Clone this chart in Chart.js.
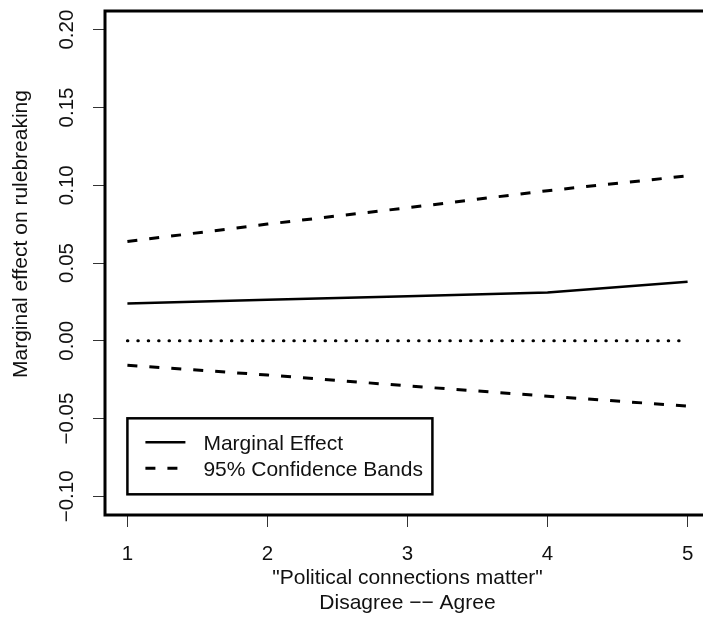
<!DOCTYPE html>
<html>
<head>
<meta charset="utf-8">
<script src="https://cdn.jsdelivr.net/npm/chart.js@4"></script>
<style>
    html, body { margin: 0; padding: 0; background: #fff; overflow: hidden; }
    #cadre { width: 712px; height: 617px; }
</style>
</head>
<body>
<div id="cadre"><canvas id="graphEffet" width="712" height="617"></canvas></div>
<script>
// ===== DONNÉES =====
// Niveaux de l'échelle "Political connections matter"
var niveaux = [1, 2, 3, 4, 5];
// Effet marginal estimé sur le rulebreaking
var effetMarginal = [0.024, 0.0263, 0.0287, 0.031, 0.038];
// Bandes de confiance à 95%
var borneHaute = [0.0638, 0.075, 0.0855, 0.0965, 0.106];
var borneBasse = [-0.0157, -0.022, -0.029, -0.0356, -0.042];
// Ligne de référence à zéro
var ligneZero = [0, 0, 0, 0, 0];
// Graduations de l'axe vertical
var ticksY = [-0.10, -0.05, 0.00, 0.05, 0.10, 0.15, 0.20];
var etiquettesY = ['\u22120.10', '\u22120.05', '0.00', '0.05', '0.10', '0.15', '0.20'];

var police = "'Liberation Sans', Arial, sans-serif";
Chart.defaults.font.family = police;
Chart.defaults.font.size = 21;
Chart.defaults.color = '#111';

// On transforme une série en points {x, y}
function points(valeurs) {
    return niveaux.map(function (n, i) { return { x: n, y: valeurs[i] }; });
}

// ===== PLUGIN : cadre, textes verticaux et légende =====
var decorR = {
    id: 'decorR',
    afterDraw: function (chart) {
        var ctx = chart.ctx;
        var zone = chart.chartArea;
        var sx = chart.scales.x;
        var sy = chart.scales.y;

        ctx.save();
        // Cadre épais autour du graphique
        ctx.strokeStyle = '#000';
        ctx.lineWidth = 3;
        ctx.strokeRect(zone.left, zone.top, zone.right - zone.left, zone.bottom - zone.top);

        // Étiquettes de l'axe Y, écrites verticalement comme dans R
        ctx.fillStyle = '#111';
        ctx.font = '20.5px ' + police;
        ctx.textAlign = 'center';
        ctx.textBaseline = 'middle';
        ticksY.forEach(function (v, i) {
            ctx.save();
            ctx.translate(67, sy.getPixelForValue(v));
            ctx.rotate(-Math.PI / 2);
            ctx.fillText(etiquettesY[i], 0, 0);
            ctx.restore();
        });

        // Titre de l'axe Y
        ctx.font = '21px ' + police;
        ctx.save();
        ctx.translate(21, 234);
        ctx.rotate(-Math.PI / 2);
        ctx.fillText('Marginal effect on rulebreaking', 0, 0);
        ctx.restore();

        // Légende en bas à gauche
        var gauche = sx.getPixelForValue(1);
        var bas = sy.getPixelForValue(-0.0987);
        var haut = bas - 76;
        ctx.lineWidth = 2.5;
        ctx.strokeRect(gauche, haut, 305, 76);

        var entrees = [chart.data.datasets[0], chart.data.datasets[1]];
        entrees.forEach(function (ds, i) {
            var yl = haut + 24 + i * 26;
            ctx.beginPath();
            ctx.setLineDash(ds.borderDash || []);
            ctx.lineWidth = ds.borderWidth;
            ctx.moveTo(gauche + 18, yl);
            ctx.lineTo(gauche + 58, yl);
            ctx.stroke();
            ctx.setLineDash([]);
            ctx.textAlign = 'left';
            ctx.fillText(ds.label, gauche + 76, yl + 2);
        });
        ctx.restore();
    }
};

// ===== GRAPHIQUE =====
document.addEventListener('DOMContentLoaded', function () {
    new Chart(document.getElementById('graphEffet'), {
        type: 'scatter',
        data: {
            datasets: [
                {
                    label: 'Marginal Effect',
                    data: points(effetMarginal),
                    borderColor: '#000',
                    borderWidth: 2.5,
                    showLine: true,
                    pointRadius: 0
                },
                {
                    label: '95% Confidence Bands',
                    data: points(borneHaute),
                    borderColor: '#000',
                    borderWidth: 3,
                    borderDash: [10, 12],
                    showLine: true,
                    pointRadius: 0
                },
                {
                    label: 'Borne basse',
                    data: points(borneBasse),
                    borderColor: '#000',
                    borderWidth: 3,
                    borderDash: [10, 12],
                    showLine: true,
                    pointRadius: 0
                },
                {
                    label: 'Zéro',
                    data: points(ligneZero),
                    borderColor: '#000',
                    borderWidth: 3,
                    borderDash: [0.5, 9.9],
                    borderCapStyle: 'round',
                    showLine: true,
                    pointRadius: 0
                }
            ]
        },
        options: {
            responsive: false,
            animation: false,
            devicePixelRatio: 1,
            layout: { padding: { left: 0, top: 11, right: 2, bottom: 0 } },
            plugins: {
                legend: { display: false },
                tooltip: { enabled: false }
            },
            scales: {
                x: {
                    type: 'linear',
                    min: 0.84,
                    max: 5.16,
                    afterBuildTicks: function (axe) {
                        axe.ticks = niveaux.map(function (n) { return { value: n }; });
                    },
                    afterFit: function (axe) { axe.height = 102; },
                    border: { display: false },
                    grid: {
                        drawOnChartArea: false,
                        drawTicks: true,
                        tickLength: 12,
                        color: '#333',
                        lineWidth: 1
                    },
                    ticks: {
                        padding: 15,
                        color: '#111',
                        maxRotation: 0,
                        font: { size: 20.5 },
                        callback: function (v) { return String(v); }
                    },
                    title: {
                        display: true,
                        text: ['"Political connections matter"', 'Disagree \u2212\u2212 Agree'],
                        font: { size: 21, lineHeight: 1.2 },
                        color: '#111',
                        padding: { top: 0, bottom: 1 }
                    }
                },
                y: {
                    type: 'linear',
                    min: -0.112,
                    max: 0.212,
                    afterBuildTicks: function (axe) {
                        axe.ticks = ticksY.map(function (v) { return { value: v }; });
                    },
                    afterFit: function (axe) { axe.width = 105; },
                    border: { display: false },
                    grid: {
                        drawOnChartArea: false,
                        drawTicks: true,
                        tickLength: 12,
                        color: '#333',
                        lineWidth: 1
                    },
                    ticks: { display: false },
                    title: { display: false }
                }
            }
        },
        plugins: [decorR]
    });
});
</script>
</body>
</html>
